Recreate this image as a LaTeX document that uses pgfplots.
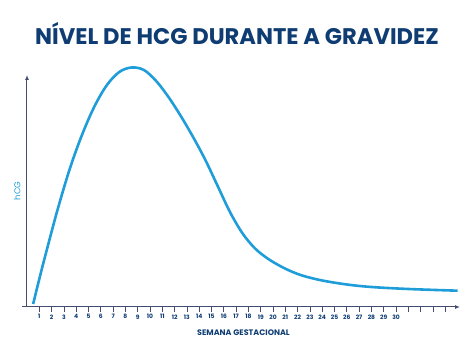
\documentclass[border=0pt]{standalone}
\usepackage{pgfplots}
\pgfplotsset{compat=1.18}
\usepackage{fontspec}
\setmainfont{Poppins}
\usetikzlibrary{arrows.meta}
\definecolor{navy}{HTML}{0F3D73}
\definecolor{axisgray}{HTML}{454C6E}
\definecolor{curveblue}{HTML}{1F9DD9}
\begin{document}
\begin{tikzpicture}[x=1pt,y=1pt]
\path[use as bounding box] (0,0) rectangle (474,355);
\node[font=\bfseries\fontsize{22.6}{26}\selectfont, text=navy] at (237,321) {NÍVEL DE HCG DURANTE A GRAVIDEZ};
\begin{axis}[
  at={(27pt,48pt)}, anchor=south west,
  scale only axis, width=433pt, height=232pt,
  xmin=0, xmax=35.2, ymin=0, ymax=232,
  axis lines=left,
  axis line style={axisgray, line width=1pt, -{Latex[length=5pt,width=4pt]}},
  xtick={1,...,34},
  xticklabels={1,2,3,4,5,6,7,8,9,10,11,12,13,14,15,16,17,18,19,20,21,22,23,24,25,26,27,28,29,30,,,,},
  xticklabel style={font=\bfseries\fontsize{6}{7}\selectfont, text=navy, yshift=1pt},
  ytick=\empty,
  tick align=outside,
  major tick length=5pt,
  tick style={axisgray, line width=0.8pt},
  xlabel={SEMANA GESTACIONAL},
  xlabel style={font=\bfseries\fontsize{8}{9}\selectfont, text=navy, yshift=-4pt},
  ylabel={hCG},
  ylabel style={font=\fontsize{8.5}{9}\selectfont, text=curveblue, yshift=-2pt},
  clip=false,
]
% short overhang of the horizontal axis to the left of the vertical one
\draw[axisgray, line width=1pt] (axis cs:-0.4,0) -- (axis cs:0,0);
\addplot[curveblue, line width=2.6pt, smooth, tension=0.55] coordinates {
  (0.5,3) (1.0,28) (1.5,52) (2.5,98) (3.5,139) (4.5,173) (5.5,201)
  (6.5,222) (7.5,235) (8.5,239.5) (9.5,237) (10.5,226) (11.5,210)
  (12.5,191) (13.5,170) (14.5,147) (15.5,121) (16.5,95) (17.5,74)
  (18.5,59) (19.5,49) (20.5,41.5) (21.5,35.5) (22.5,31) (24,26.5)
  (26,22.5) (28,20) (31,18) (35,16.3)
};
\end{axis}
\end{tikzpicture}
\end{document}
